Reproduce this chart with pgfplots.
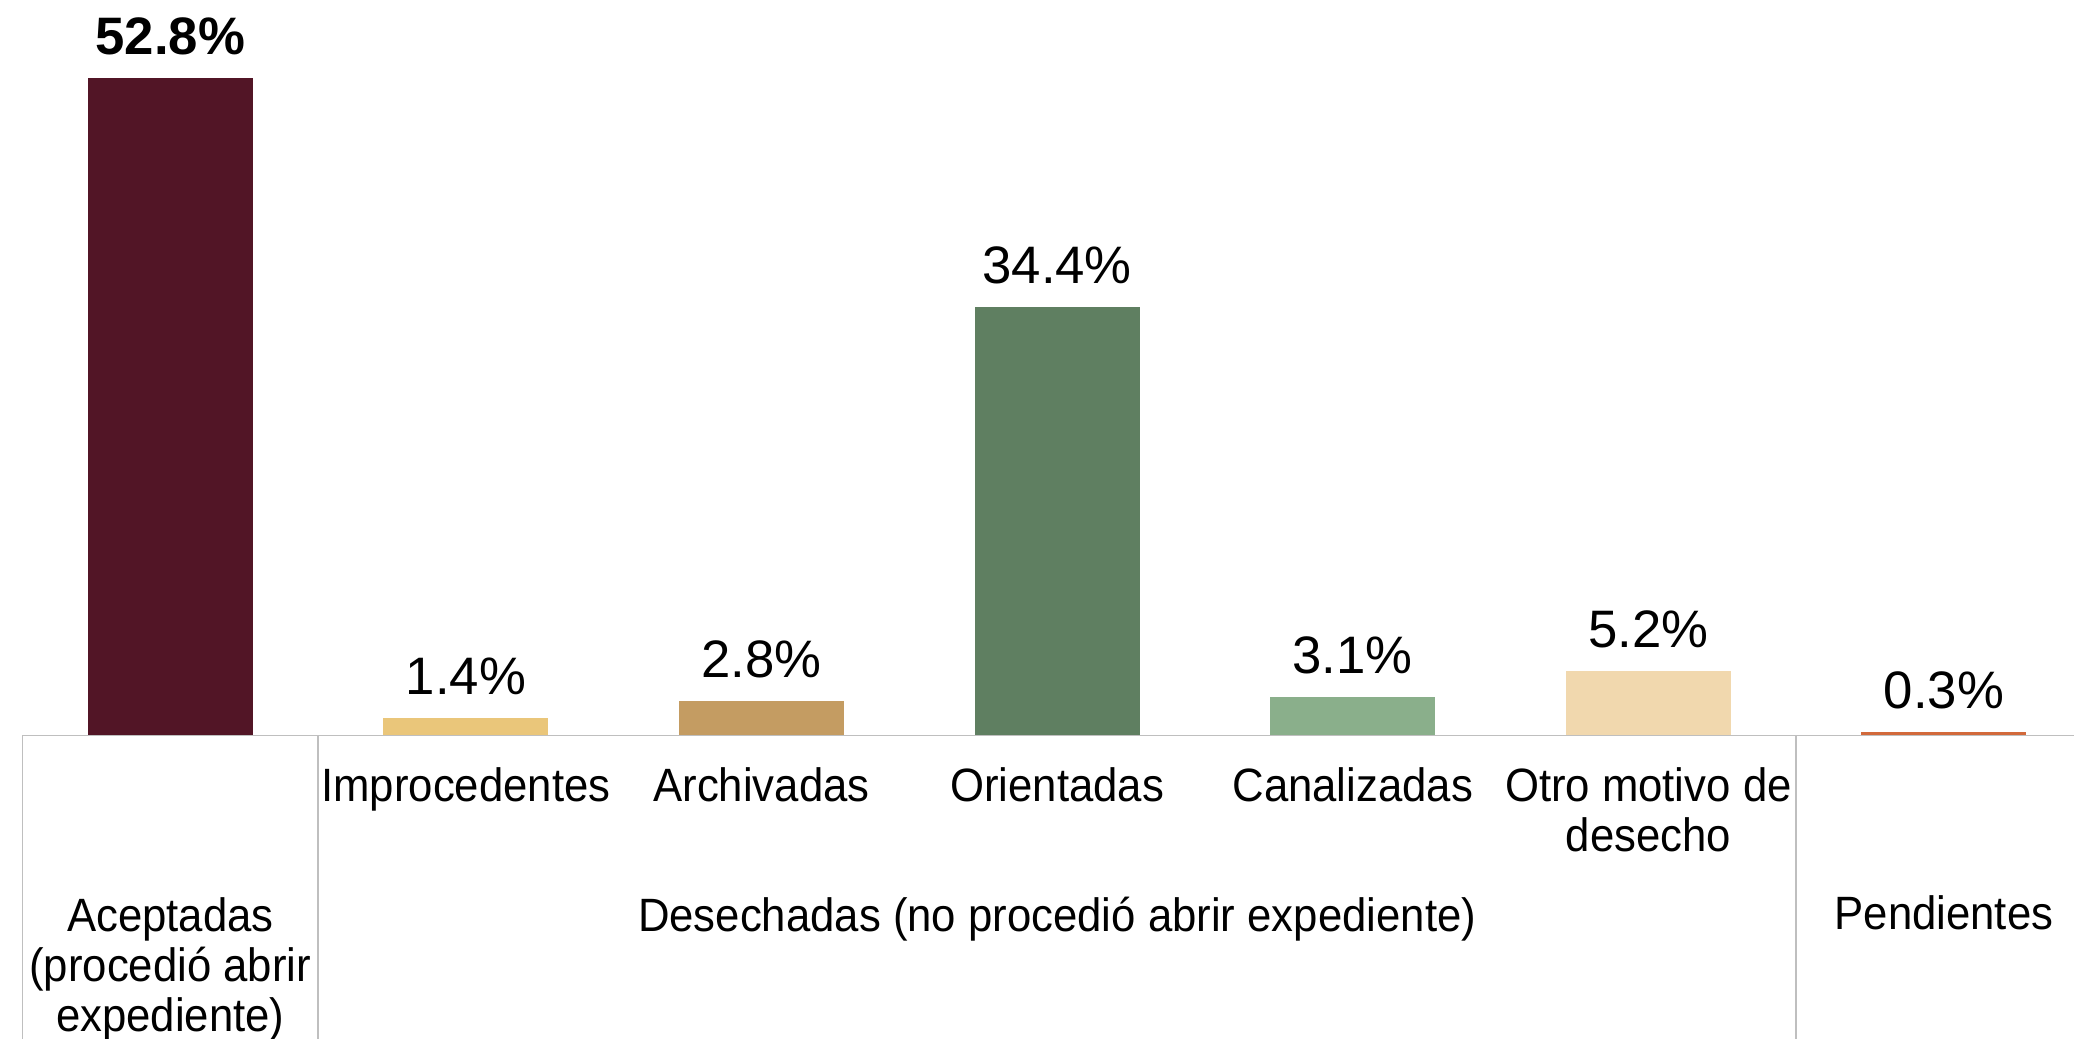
\documentclass[border=0pt]{standalone}
\usepackage{pgfplots}
\pgfplotsset{compat=1.18}
\usepackage{fontspec}
\setmainfont{Liberation Sans}[FakeStretch=0.935]
\newfontfamily\numfont{Liberation Sans}
\definecolor{cA}{RGB}{82,21,38}
\definecolor{cB}{RGB}{234,198,122}
\definecolor{cC}{RGB}{196,156,98}
\definecolor{cD}{RGB}{95,127,97}
\definecolor{cE}{RGB}{138,175,139}
\definecolor{cF}{RGB}{241,216,174}
\definecolor{cG}{RGB}{210,105,59}
\definecolor{lgray}{RGB}{191,191,191}
\begin{document}
\begin{tikzpicture}
\begin{axis}[
  at={(0,0)}, anchor=south west,
  scale only axis,
  width=20.515cm, height=7.354cm,
  xmin=-0.5, xmax=6.44,
  ymin=0, ymax=59.07,
  axis line style={draw=none},
  xtick=\empty, ytick=\empty,
  clip=false,
  /pgf/number format/assume math mode=true,
  every node near coord/.append style={anchor=base, yshift=0.235cm, font=\numfont\fontsize{15}{18}\selectfont, text=black},
  nodes near coords={\pgfmathprintnumber[fixed,fixed zerofill,precision=1]{\pgfplotspointmeta}\%},
]
\addplot[ybar, bar width=1.65cm, fill=cA, draw=none,
  nodes near coords={\bfseries\pgfmathprintnumber[fixed,fixed zerofill,precision=1]{\pgfplotspointmeta}\%}]
  coordinates {(0,52.8)};
\addplot[ybar, bar width=1.65cm, fill=cB, draw=none] coordinates {(1,1.4)};
\addplot[ybar, bar width=1.65cm, fill=cC, draw=none] coordinates {(2,2.8)};
\addplot[ybar, bar width=1.65cm, fill=cD, draw=none] coordinates {(3,34.4)};
\addplot[ybar, bar width=1.65cm, fill=cE, draw=none] coordinates {(4,3.1)};
\addplot[ybar, bar width=1.65cm, fill=cF, draw=none] coordinates {(5,5.2)};
\addplot[ybar, bar width=1.65cm, fill=cG, draw=none] coordinates {(6,0.3)};

% axis line and separators
\draw[lgray, line width=0.5pt] (axis cs:-0.5,0) -- (axis cs:6.44,0);
\draw[lgray, line width=0.5pt] (axis cs:-0.5,0) -- ([yshift=-3.2cm]axis cs:-0.5,0);
\draw[lgray, line width=0.5pt] (axis cs:0.5,0) -- ([yshift=-3.2cm]axis cs:0.5,0);
\draw[lgray, line width=0.5pt] (axis cs:5.5,0) -- ([yshift=-3.2cm]axis cs:5.5,0);

% category labels
\begin{scope}[every node/.style={font=\fontsize{13.3}{16}\selectfont, anchor=base, inner sep=0pt}]
\node at ([yshift=-0.666cm]axis cs:1,0) {Improcedentes};
\node at ([yshift=-0.666cm]axis cs:2,0) {Archivadas};
\node at ([yshift=-0.666cm]axis cs:3,0) {Orientadas};
\node at ([yshift=-0.666cm]axis cs:4,0) {Canalizadas};
\node at ([yshift=-0.666cm]axis cs:5,0) {Otro motivo de};
\node at ([yshift=-1.166cm]axis cs:5,0) {desecho};
\node at ([yshift=-1.963cm]axis cs:3,0) {Desechadas (no procedió abrir expediente)};
\node at ([yshift=-1.94cm]axis cs:6,0) {Pendientes};
\node at ([yshift=-1.963cm]axis cs:0,0) {Aceptadas};
\node at ([yshift=-2.463cm]axis cs:0,0) {(procedió abrir};
\node at ([yshift=-2.963cm]axis cs:0,0) {expediente)};
\end{scope}
\end{axis}
\pgfresetboundingbox
\path (-0.225cm,-3.036cm) rectangle (20.515cm,7.354cm);
\end{tikzpicture}
\end{document}
